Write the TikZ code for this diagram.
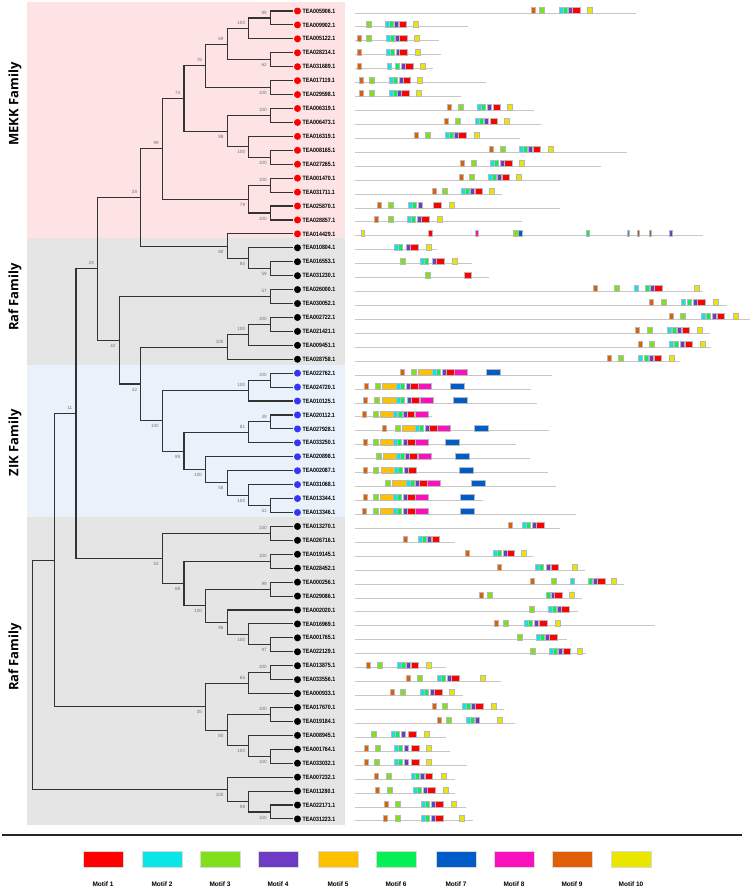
\documentclass[tikz,border=0pt]{standalone}
\usepackage{fontspec}
\setmainfont{Liberation Sans}
\newfontfamily\famfont{Open Sans}
\usetikzlibrary{calc}
\definecolor{m1}{HTML}{FF0000}
\definecolor{m2}{HTML}{0AE6E8}
\definecolor{m3}{HTML}{80E01C}
\definecolor{m4}{HTML}{6E3CC4}
\definecolor{m5}{HTML}{FFC000}
\definecolor{m6}{HTML}{05F055}
\definecolor{m7}{HTML}{005CC8}
\definecolor{m8}{HTML}{FA10BE}
\definecolor{m9}{HTML}{E05F05}
\definecolor{m10}{HTML}{EAE600}
\definecolor{tealc}{HTML}{30A0A8}
\definecolor{brownc}{HTML}{A0522D}
\definecolor{olivec}{HTML}{8B6914}
\definecolor{pinkbg}{HTML}{FDE3E3}
\definecolor{graybg}{HTML}{E5E5E5}
\definecolor{bluebg}{HTML}{E9F1FA}
\definecolor{ziku}{HTML}{3535F5}
\tikzset{
  br/.style={draw=black!80, line width=1.1pt},
  bs/.style={anchor=east, inner sep=0pt, text=black!55, font=\fontsize{4.6}{5}\selectfont},
  bsa/.style={bs, yshift=5.5pt},
  bsb/.style={bs, yshift=-5.5pt},
  dot/.style={circle, inner sep=0pt, minimum size=7pt},
  leaflab/.style={anchor=west, inner sep=0pt, font=\fontsize{6.2}{7}\selectfont\bfseries},
  famlab/.style={rotate=90, inner sep=0pt, font=\famfont\bfseries\fontsize{13}{14}\selectfont},
  rowl/.style={draw=black!22, line width=1pt},
  legbox/.style={minimum width=40pt, minimum height=16pt, inner sep=0pt, draw=black!15, line width=0.4pt},
  leglab/.style={inner sep=0pt, font=\fontsize{6.5}{7}\selectfont\bfseries}
}
\newcommand\jn[6]{%
  \path let \p1=(#3), \p2=(#4) in coordinate (#1) at ({(292-21.6*#2)*1pt},{0.5*(\y1+\y2)});
  \draw[br] (#3) -| (#1) |- (#4);
  \node[bs#6] at ([xshift=-3.5pt]#1) {#5};
}
\newcommand\jx[4]{%
  \path let \p1=(#3), \p2=(#4) in coordinate (#1) at ({(292-21.6*#2)*1pt},{0.5*(\y1+\y2)});
  \draw[br] (#3) -| (#1) |- (#4);
}
\newcommand\mbx[3]{\filldraw[fill=#1,draw=black!28,line width=0.3pt] ({350+#2/3},{\ry-4}) rectangle ++({#3/3},6);}
\newcommand\R[2]{\pgfmathsetmacro\ry{11+13.93*#1}\draw[rowl] (355,{\ry+2}) -- ({350+#2/3},{\ry+2});}
\newcommand\Ma[1]{\mbx{m1}{#1}{23}}
\newcommand\Mb[1]{\mbx{m2}{#1}{12}}
\newcommand\Mc[1]{\mbx{m3}{#1}{15}}
\newcommand\Md[1]{\mbx{m4}{#1}{12}}
\newcommand\Me[1]{\mbx{m5}{#1}{40}}
\newcommand\Mf[1]{\mbx{m6}{#1}{12}}
\newcommand\Mg[1]{\mbx{m7}{#1}{42}}
\newcommand\Mh[1]{\mbx{m8}{#1}{40}}
\newcommand\Mi[1]{\mbx{m9}{#1}{12}}
\newcommand\Mj[1]{\mbx{m10}{#1}{15}}
\begin{document}
\begin{tikzpicture}[x=1pt,y=-1pt]
\useasboundingbox (0,0) rectangle (753,889);
\fill[white] (0,0) rectangle (753,889);
% family bands
\fill[pinkbg] (27,2) rectangle (345,238);
\fill[graybg] (27,238) rectangle (345,365);
\fill[bluebg] (27,365) rectangle (345,517);
\fill[graybg] (27,517) rectangle (345,825);
\node[famlab] (f1) at (15,104) {MEKK Family};
\node[famlab] (f2) at (15,297) {Raf Family};
\node[famlab] (f3) at (15,443) {ZIK Family};
\node[famlab] (f4) at (15,657) {Raf Family};
% leaf coordinates
\foreach \i in {0,...,58}{\pgfmathsetmacro\yy{11+13.93*\i}\coordinate (lf\i) at (293,\yy);}
% tree
\jn{A}{1}{lf0}{lf1}{99}{a}
\jn{B}{2}{A}{lf2}{100}{a}
\jn{C}{1}{lf3}{lf4}{62}{b}
\jn{D}{3}{B}{C}{69}{a}
\jn{E}{1}{lf5}{lf6}{100}{b}
\jn{F}{4}{D}{E}{76}{a}
\jn{G}{1}{lf7}{lf8}{100}{a}
\jn{H}{1}{lf10}{lf11}{100}{b}
\jn{I}{2}{lf9}{H}{100}{b}
\jn{J}{3}{G}{I}{98}{b}
\jn{K}{5}{F}{J}{73}{a}
\jn{N}{1}{lf12}{lf13}{100}{a}
\jn{O}{1}{lf14}{lf15}{100}{b}
\jn{M}{2}{N}{O}{79}{b}
\jn{L}{6}{K}{M}{99}{a}
\jn{T}{1}{lf18}{lf19}{59}{b}
\jn{S}{2}{lf17}{T}{85}{b}
\jn{Rn}{3}{lf16}{S}{80}{b}
\jn{P}{7}{L}{Rn}{28}{a}
\jn{X}{1}{lf20}{lf21}{57}{a}
\jn{Za}{1}{lf22}{lf23}{100}{a}
\jn{Zb}{2}{Za}{lf24}{100}{a}
\jn{Z}{3}{Zb}{lf25}{100}{a}
\jn{ABa}{1}{lf26}{lf27}{100}{a}
\jn{AB}{2}{ABa}{lf28}{100}{a}
\jn{ADa}{1}{lf29}{lf30}{49}{a}
\jn{AD}{2}{ADa}{lf31}{81}{a}
\jn{AH}{1}{lf35}{lf36}{51}{b}
\jn{AG}{2}{lf34}{AH}{100}{b}
\jn{AF}{3}{lf33}{AG}{58}{b}
\jn{AE}{4}{lf32}{AF}{100}{b}
\jn{AC}{5}{AD}{AE}{89}{b}
\jn{AA}{6}{AB}{AC}{100}{b}
\jn{Y}{7}{Z}{AA}{42}{b}
\jn{W}{8}{X}{Y}{42}{b}
\jn{V}{9}{P}{W}{24}{a}
\jn{AJ}{1}{lf37}{lf38}{100}{a}
\jn{AL}{1}{lf39}{lf40}{100}{a}
\jn{AN}{1}{lf41}{lf42}{99}{a}
\jn{AQ}{1}{lf45}{lf46}{97}{b}
\jn{AP}{2}{lf44}{AQ}{100}{b}
\jn{AO}{3}{lf43}{AP}{98}{b}
\jn{AM}{4}{AN}{AO}{100}{b}
\jn{AK}{5}{AL}{AM}{68}{b}
\jn{AI}{6}{AJ}{AK}{53}{b}
\jn{U}{10}{V}{AI}{11}{a}
\jn{AW}{1}{lf47}{lf48}{100}{a}
\jn{AU}{2}{AW}{lf49}{65}{a}
\jn{AX}{1}{lf50}{lf51}{100}{a}
\jn{AZ}{1}{lf53}{lf54}{100}{b}
\jn{AY}{2}{lf52}{AZ}{100}{b}
\jn{AV}{3}{AX}{AY}{80}{b}
\jn{AS}{4}{AU}{AV}{35}{b}
\jx{AR}{11}{U}{AS}
\jn{BB}{1}{lf57}{lf58}{100}{b}
\jn{BA}{2}{lf56}{BB}{98}{b}
\jn{AT}{3}{lf55}{BA}{100}{b}
\jx{ROOT}{12}{AR}{AT}
% leaves: dots and names
\foreach \i/\nm/\col in {0/005906/red,1/009902/red,2/005122/red,3/028214/red,4/031689/red,5/017119/red,6/029598/red,7/006319/red,8/006473/red,9/016319/red,10/008165/red,11/027265/red,12/001470/red,13/031711/red,14/025870/red,15/028857/red,16/014429/red,
17/010804/black,18/016553/black,19/031230/black,20/026000/black,21/030052/black,22/002722/black,23/021421/black,24/009451/black,25/028758/black,
26/022762/ziku,27/024720/ziku,28/010125/ziku,29/020112/ziku,30/027928/ziku,31/033250/ziku,32/020898/ziku,33/002087/ziku,34/031068/ziku,35/013344/ziku,36/013346/ziku,
37/013270/black,38/026716/black,39/019145/black,40/028452/black,41/000256/black,42/029086/black,43/002020/black,44/016969/black,45/001765/black,46/022129/black,47/013875/black,48/033556/black,49/000933/black,50/017670/black,51/019184/black,52/008945/black,53/001764/black,54/033032/black,55/007232/black,56/011280/black,57/022171/black,58/031223/black}{
  \pgfmathsetmacro\yy{11+13.93*\i}
  \node[dot, fill=\col] (d\i) at (297.5,\yy) {};
  \node[leaflab] (t\i) at (302.5,\yy) {\scalebox{0.85}[1]{TEA\nm.1}};
}
% motif rows
\R{0}{857} \Mi{542}\Mc{567}\Mb{628}\Mf{640}\Md{654}\Ma{666}\Mj{711}
\R{1}{355} \Mc{47}\Mb{106}\Mf{118}\Md{133}\Ma{146}\Mj{190}
\R{2}{268} \Mi{22}\Mc{47}\Mb{108}\Mf{120}\Md{136}\Ma{148}\Mj{193}
\R{3}{272} \Mi{21}\Mb{108}\Mf{120}\Md{137}\Ma{148}\Mj{195}
\R{4}{248} \Mi{22}\Mb{110}\Mf{134}\Md{153}\Ma{165}\Mj{211}
\R{5}{407} \Mi{27}\Mc{56}\Mb{117}\Mf{129}\Md{146}\Ma{158}\Mj{202}
\R{6}{334} \Mi{26}\Mc{56}\Mb{117}\Mf{129}\Md{142}\Ma{154}\Mj{198}
\R{7}{551} \Mi{291}\Mc{323}\Mb{382}\Mf{394}\Md{410}\Ma{428}\Mj{472}
\R{8}{572} \Mi{283}\Mc{315}\Mb{374}\Mf{386}\Md{402}\Ma{419}\Mj{463}
\R{9}{511} \Mi{193}\Mc{226}\Mb{285}\Mf{297}\Md{312}\Ma{325}\Mj{371}
\R{10}{830} \Mi{417}\Mc{450}\Mb{507}\Mf{519}\Md{535}\Ma{548}\Mj{595}
\R{11}{752} \Mi{331}\Mc{363}\Mb{421}\Mf{433}\Md{449}\Ma{462}\Mj{507}
\R{12}{630} \Mi{327}\Mc{358}\Mb{414}\Mf{426}\Md{441}\Ma{455}\Mj{499}
\R{13}{455} \Mi{246}\Mc{277}\Mb{333}\Mf{345}\Md{360}\Ma{374}\Mj{418}
\R{14}{630} \Mi{80}\Mc{114}\Mb{173}\Mf{185}\Md{203}\Ma{249}\Mj{298}
\R{15}{515} \Mi{71}\Mc{113}\Mb{171}\Mf{183}\Md{202}\Ma{214}\Mj{261}
\R{16}{1060} \mbx{m10}{33}{8}\mbx{m1}{234}{13}\mbx{m8}{376}{7}\Mc{490}\mbx{m7}{505}{12}\mbx{m6}{708}{8}\mbx{tealc}{831}{5}\mbx{brownc}{861}{5}\mbx{olivec}{897}{6}\mbx{m4}{957}{9}
\R{17}{262} \Mb{133}\Mf{145}\Md{168}\Ma{180}\Mj{228}
\R{18}{365} \Mc{150}\Mb{211}\Mf{223}\Md{246}\Ma{258}\Mj{306}
\R{19}{418} \Mc{226}\Ma{341}
\R{20}{1058} \Mi{729}\Mc{792}\Mb{852}\Mf{884}\Md{900}\Ma{913}\Mj{1032}
\R{21}{1130} \Mi{897}\Mc{932}\Mb{994}\Mf{1011}\Md{1028}\Ma{1042}\Mj{1089}
\R{22}{1200} \Mi{956}\Mc{990}\Mb{1052}\Mf{1068}\Md{1086}\Ma{1100}\Mj{1150}
\R{23}{1080} \Mi{855}\Mc{890}\Mb{950}\Mf{965}\Md{982}\Ma{995}\Mj{1042}
\R{24}{1082} \Mi{864}\Mc{898}\Mb{958}\Mf{973}\Md{990}\Ma{1004}\Mj{1050}
\R{25}{990} \Mi{771}\Mc{805}\Mb{865}\Mf{881}\Md{897}\Ma{911}\Mj{958}
\R{26}{605} \Mi{151}\Mc{184}\Me{205}\Mb{245}\Mf{257}\Md{276}\Ma{289}\Mh{312}\Mg{408}
\R{27}{543} \Mi{43}\Mc{76}\Me{97}\Mb{137}\Mf{149}\Md{167}\Ma{180}\Mh{204}\Mg{300}
\R{28}{560} \Mi{40}\Mc{73}\Me{97}\Mb{137}\Mf{149}\Md{172}\Ma{184}\Mh{209}\Mg{310}
\R{29}{245} \Mi{37}\Mc{70}\Me{90}\Mb{130}\Mf{143}\Md{158}\Ma{170}\Mh{194}
\R{30}{598} \Mi{95}\Mc{135}\Me{156}\Mb{196}\Mf{208}\Md{225}\Ma{237}\Mh{260}\Mg{373}
\R{31}{498} \Mi{38}\Mc{70}\Me{90}\Mb{130}\Mf{142}\Md{158}\Ma{172}\Mh{195}\Mg{284}
\R{32}{540} \Mc{78}\Me{99}\Mb{139}\Mf{151}\Md{166}\Ma{178}\Mh{203}\Mg{316}
\R{33}{595} \Mi{38}\Mc{70}\Me{92}\Mb{132}\Mf{144}\Md{162}\Ma{175}\Mg{326}
\R{34}{618} \Mc{106}\Me{127}\Mb{167}\Mf{179}\Md{194}\Ma{207}\Mh{231}\Mg{364}
\R{35}{398} \Mi{38}\Mc{70}\Me{90}\Mb{130}\Mf{142}\Md{160}\Ma{172}\Mh{195}\Mg{331}
\R{36}{678} \Mi{36}\Mc{69}\Me{90}\Mb{130}\Mf{142}\Md{159}\Ma{172}\Mh{195}\Mg{330}
\R{37}{630} \Mi{473}\Mb{517}\Mf{529}\Md{546}\Ma{559}
\R{38}{315} \Mi{158}\Mb{203}\Mf{215}\Md{232}\Ma{245}
\R{39}{548} \Mi{345}\Mb{430}\Mf{442}\Md{458}\Ma{470}\Mj{512}
\R{40}{706} \Mi{441}\Mb{556}\Mf{568}\Md{587}\Ma{602}\Mj{667}
\R{41}{822} \Mi{540}\Mc{603}\Mb{659}\Mf{713}\Md{729}\Ma{742}\Mj{784}
\R{42}{696} \Mi{386}\Mc{412}\Mf{587}\Md{602}\Ma{613}\Mj{656}
\R{43}{683} \Mc{536}\Mb{594}\Mf{606}\Md{622}\Ma{634}
\R{44}{916} \Mi{431}\Mc{460}\Mb{523}\Mf{535}\Md{553}\Ma{567}\Mj{614}
\R{45}{650} \Mc{500}\Mb{558}\Mf{570}\Md{586}\Ma{598}
\R{46}{708} \Mc{540}\Mb{598}\Mf{610}\Md{625}\Ma{638}\Mj{680}
\R{47}{288} \Mi{47}\Mc{81}\Mb{141}\Mf{152}\Md{169}\Ma{182}\Mj{229}
\R{48}{452} \Mi{168}\Mc{202}\Mb{262}\Mf{274}\Md{291}\Ma{304}\Mj{391}
\R{49}{338} \Mi{120}\Mc{151}\Mb{211}\Mf{223}\Md{240}\Ma{252}\Mj{298}
\R{50}{462} \Mi{247}\Mc{277}\Mb{336}\Mf{348}\Md{364}\Ma{376}\Mj{423}
\R{51}{494} \Mi{260}\Mc{289}\Mb{348}\Mf{360}\Md{376}\Mj{440}
\R{52}{288} \Mc{63}\Mb{123}\Mf{136}\Md{153}\Ma{174}\Mj{221}
\R{53}{300} \Mi{42}\Mc{75}\Mb{133}\Mf{145}\Md{163}\Ma{183}\Mj{229}
\R{54}{352} \Mi{41}\Mc{73}\Mb{133}\Mf{145}\Md{162}\Ma{183}\Mj{229}
\R{55}{315} \Mi{72}\Mc{108}\Mb{182}\Mf{194}\Md{211}\Ma{224}\Mj{273}
\R{56}{315} \Mi{76}\Mc{111}\Mb{188}\Mf{200}\Md{218}\Ma{232}\Mj{279}
\R{57}{347} \Mi{102}\Mc{136}\Mb{212}\Mf{224}\Md{243}\Ma{256}\Mj{304}
\R{58}{368} \Mi{100}\Mc{136}\Mb{214}\Mf{226}\Md{243}\Ma{256}\Mj{327}
% separator and legend
\draw[line width=2pt, black!85] (2,835) -- (742,835);
\foreach \k/\cx in {1/103,2/162,3/220,4/278,5/338,6/396,7/456,8/514,9/572,10/631}{
  \node[legbox, fill=m\k] (lb\k) at (\cx,859) {};
  \node[leglab] (ll\k) at (\cx,884) {Motif \k};
}
\end{tikzpicture}
\end{document}
